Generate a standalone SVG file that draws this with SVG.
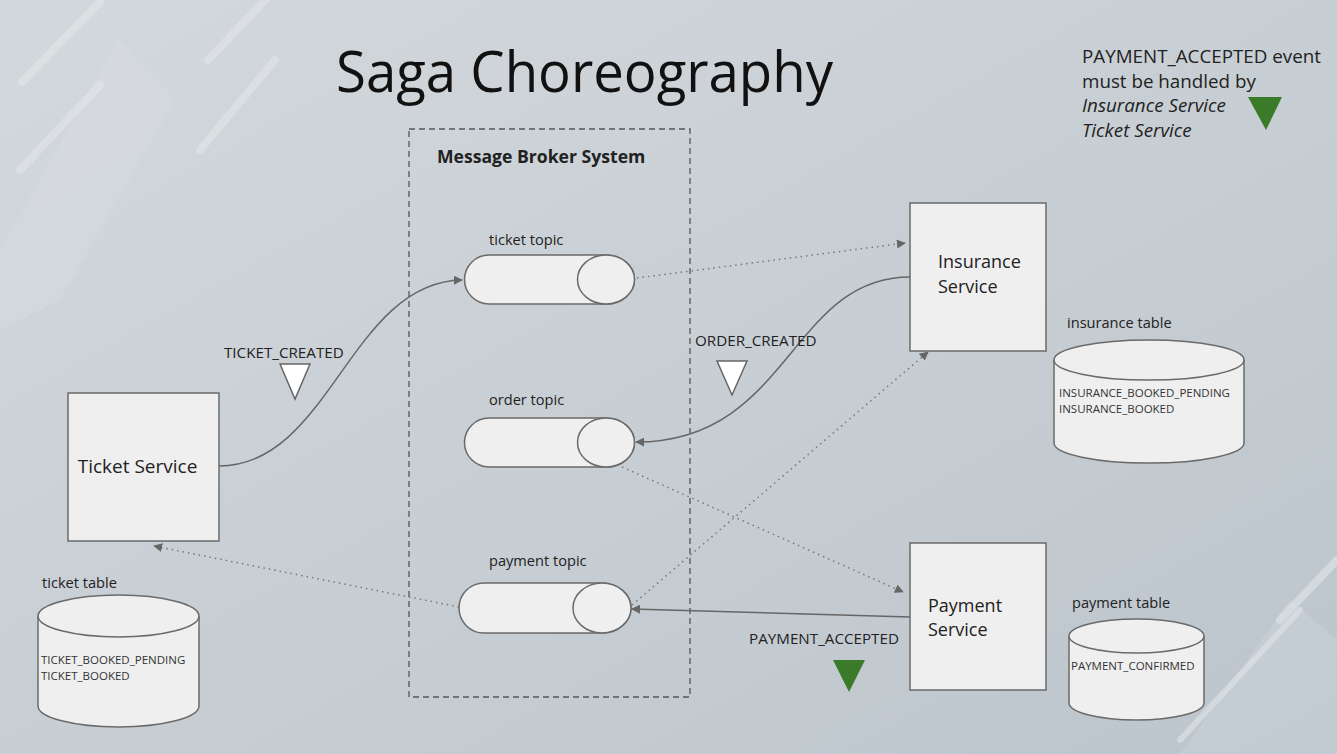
<svg xmlns="http://www.w3.org/2000/svg" width="1337" height="754" viewBox="0 0 1337 754">
<defs>
<linearGradient id="bg" x1="0" y1="0" x2="1" y2="1">
<stop offset="0" stop-color="#d3d8dc"/>
<stop offset="0.5" stop-color="#c8cfd4"/>
<stop offset="1" stop-color="#bcc5cc"/>
</linearGradient>
<marker id="arr" viewBox="0 0 10 10" refX="9" refY="5" markerWidth="9" markerHeight="9" markerUnits="userSpaceOnUse" orient="auto">
<path d="M0,0 L10,5 L0,10 Z" fill="#666"/>
</marker>
<style>
.box{fill:#efefef;stroke:#6a6a6a;stroke-width:1.5}
.lbl{font-family:"Open Sans","Liberation Sans",sans-serif;fill:#222}
.small{font-family:"Open Sans","Liberation Sans",sans-serif;font-size:11.5px;fill:#333}
.solid{fill:none;stroke:#666;stroke-width:1.5}
.dot{fill:none;stroke:#777;stroke-width:1.5;stroke-dasharray:1.5 4}
.deco{stroke:#e4e8eb;stroke-linecap:round;opacity:0.55}
</style>
</defs>
<rect width="1337" height="754" fill="url(#bg)"/>
<g id="decoration">
<polygon points="0,250 118,40 175,100 60,300 0,330" fill="#dde2e6" opacity="0.3"/>
<polygon points="1180,754 1290,600 1337,640 1337,754" fill="#d5dbe0" opacity="0.3"/>
<line class="deco" x1="22" y1="82" x2="100" y2="2" stroke-width="8"/>
<line class="deco" x1="200" y1="150" x2="275" y2="60" stroke-width="8"/>
<line class="deco" x1="208" y1="60" x2="270" y2="-5" stroke-width="8"/>
<line class="deco" x1="20" y1="170" x2="100" y2="85" stroke-width="8"/>
<line class="deco" x1="1280" y1="620" x2="1337" y2="560" stroke-width="8"/>
<line class="deco" x1="1180" y1="740" x2="1300" y2="610" stroke-width="6"/>
</g>
<g id="title">
<text x="336" y="92" class="lbl" font-size="57" style="fill:#111" textLength="497" lengthAdjust="spacingAndGlyphs">Saga Choreography</text>
</g>
<g id="note">
<text x="1082" y="63" class="lbl" font-size="18.8">PAYMENT_ACCEPTED event</text>
<text x="1082" y="88" class="lbl" font-size="18.8">must be handled by</text>
<text x="1082" y="112" class="lbl" font-size="18.8" font-style="italic">Insurance Service</text>
<text x="1082" y="137" class="lbl" font-size="18.8" font-style="italic">Ticket Service</text>
<polygon points="1248,97 1282,97 1266,130" fill="#3b7a29"/>
</g>
<g id="broker">
<rect x="409" y="129" width="281" height="568" fill="none" stroke="#555" stroke-width="1.3" stroke-dasharray="6 4"/>
<text x="437" y="163" class="lbl" font-size="17.6" font-weight="bold">Message Broker System</text>
</g>
<g id="connectors">
<path class="solid" d="M219,466 C330,466 350,282 462,280" marker-end="url(#arr)"/>
<path class="solid" d="M910,277 C790,277 790,442 636,442" marker-end="url(#arr)"/>
<path class="solid" d="M910,617 L632,609" marker-end="url(#arr)"/>
<path class="dot" d="M637,278 L905,243" marker-end="url(#arr)"/>
<path class="dot" d="M622,467 L903,592" marker-end="url(#arr)"/>
<path class="dot" d="M632,605 L928,352" marker-end="url(#arr)"/>
<path class="dot" d="M459,607 L154,546" marker-end="url(#arr)"/>
</g>
<g id="ticket-topic">
<text x="489" y="245" class="lbl" font-size="14.6">ticket topic</text>
<path class="box" d="M489,255 H606 A28.5,24.5 0 0 1 606,304 H489 A24.5,24.5 0 0 1 489,255 Z"/>
<ellipse class="box" cx="606" cy="279.5" rx="28.5" ry="24.5"/>
</g>
<g id="order-topic">
<text x="489" y="405" class="lbl" font-size="14.6">order topic</text>
<path class="box" d="M489,418 H606 A28.5,24.5 0 0 1 606,467 H489 A24.5,24.5 0 0 1 489,418 Z"/>
<ellipse class="box" cx="606" cy="442.5" rx="28.5" ry="24.5"/>
</g>
<g id="payment-topic">
<text x="489" y="566" class="lbl" font-size="14.6">payment topic</text>
<path class="box" d="M484,583 H602 A29,25 0 0 1 602,633 H484 A25,25 0 0 1 484,583 Z"/>
<ellipse class="box" cx="602" cy="608" rx="29" ry="25"/>
</g>
<g id="ticket-service">
<rect class="box" x="68" y="393" width="151" height="148"/>
<text x="137.5" y="473" class="lbl" font-size="19" text-anchor="middle">Ticket Service</text>
</g>
<g id="insurance-service">
<rect class="box" x="910" y="203" width="136" height="148"/>
<text x="938" y="268" class="lbl" font-size="18">Insurance</text>
<text x="938" y="293" class="lbl" font-size="18">Service</text>
</g>
<g id="payment-service">
<rect class="box" x="910" y="543" width="136" height="147"/>
<text x="928" y="612" class="lbl" font-size="18">Payment</text>
<text x="928" y="636" class="lbl" font-size="18">Service</text>
</g>
<g id="ticket-created">
<text x="224" y="358" class="lbl" font-size="15.2">TICKET_CREATED</text>
<polygon points="280,364 310,364 295,399" fill="#fff" stroke="#666" stroke-width="1.5"/>
</g>
<g id="order-created">
<text x="695" y="346" class="lbl" font-size="15.2">ORDER_CREATED</text>
<polygon points="717,361 747,361 732,395" fill="#fff" stroke="#666" stroke-width="1.5"/>
</g>
<g id="payment-accepted">
<text x="749" y="644" class="lbl" font-size="15.2">PAYMENT_ACCEPTED</text>
<polygon points="833,660 865,660 849,692" fill="#3b7a29"/>
</g>
<g id="ticket-table">
<text x="42" y="588" class="lbl" font-size="14.6">ticket table</text>
<path class="box" d="M38,616 V706 A80.5,21 0 0 0 199,706 V616"/>
<ellipse class="box" cx="118.5" cy="616" rx="80.5" ry="21"/>
<text x="41" y="664" class="small">TICKET_BOOKED_PENDING</text>
<text x="41" y="680" class="small">TICKET_BOOKED</text>
</g>
<g id="insurance-table">
<text x="1067" y="328" class="lbl" font-size="14.6">insurance table</text>
<path class="box" d="M1054,360 V443 A95,20 0 0 0 1244,443 V360"/>
<ellipse class="box" cx="1149" cy="360" rx="95" ry="20"/>
<text x="1059" y="397" class="small">INSURANCE_BOOKED_PENDING</text>
<text x="1059" y="413" class="small">INSURANCE_BOOKED</text>
</g>
<g id="payment-table">
<text x="1072" y="608" class="lbl" font-size="14.6">payment table</text>
<path class="box" d="M1069,636 V703 A67.5,17 0 0 0 1204,703 V636"/>
<ellipse class="box" cx="1136.5" cy="636" rx="67.5" ry="17"/>
<text x="1071" y="670" class="small">PAYMENT_CONFIRMED</text>
</g>
</svg>
